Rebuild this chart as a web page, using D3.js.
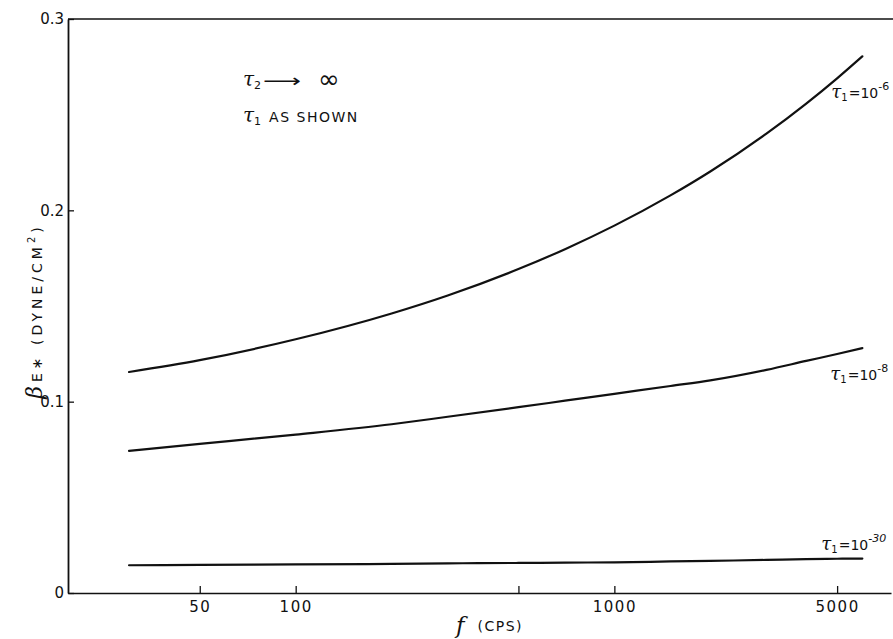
<!DOCTYPE html>
<html>
<head>
<meta charset="utf-8">
<script src="https://cdn.jsdelivr.net/npm/d3@7"></script>
<style>
  html, body { margin: 0; padding: 0; background: #fff; }
  svg { display: block; }
  text { fill: #111; }
</style>
</head>
<body>
<svg id="chart" width="893" height="639"></svg>
<script>
// ---- data ----
const freqs = [30, 50, 100, 200, 300, 500, 700, 1000, 1500, 2000, 3000, 4000, 5000, 6000];
const tau1e6 = [0.1155, 0.1217, 0.1326, 0.1461, 0.1555, 0.1693, 0.1797, 0.1920, 0.2078, 0.2203, 0.2401, 0.2558, 0.2690, 0.2805];
const tau1e8 = [0.0743, 0.0779, 0.0828, 0.0882, 0.0921, 0.0971, 0.1005, 0.1041, 0.1082, 0.1111, 0.1166, 0.1213, 0.1249, 0.1280];
const tau1e30 = [0.0145, 0.0147, 0.0150, 0.0152, 0.0155, 0.0157, 0.0159, 0.0160, 0.0165, 0.0168, 0.0173, 0.0177, 0.0179, 0.0180];
const seriesExp = ["-6", "-8", "-30"];
const xTickValues = [50, 100, 500, 1000, 5000];
const xTickLabels = ["50", "100", "", "1000", "5000"];
const yTickValues = [0, 0.1, 0.2, 0.3];
const yTickLabels = ["0", "0.1", "0.2", "0.3"];

(function () {
// ---- layout ----
const svg = d3.select("#chart");
const mLeft = 68, mRight = 891, mTop = 19, mBottom = 593;
const x = d3.scaleLog().domain([19.3, 7380]).range([mLeft, mRight]);
const y = d3.scaleLinear().domain([0, 0.3]).range([mBottom, mTop]);
const font = "'DejaVu Sans', 'Liberation Sans', sans-serif";

// top border (no right border in the original)
svg.append("line")
  .attr("x1", mLeft).attr("x2", 893)
  .attr("y1", y(0.3)).attr("y2", y(0.3))
  .attr("stroke", "#111").attr("stroke-width", 1.6);

// x axis
const xAxis = d3.axisBottom(x)
  .tickValues(xTickValues)
  .tickFormat((d, i) => xTickLabels[i])
  .tickSizeInner(-7).tickSizeOuter(0).tickPadding(8);
const gx = svg.append("g").attr("transform", `translate(0,${mBottom})`).call(xAxis);
gx.select(".domain").attr("stroke", "#111").attr("stroke-width", 1.6);
gx.selectAll(".tick line").attr("stroke", "#111").attr("stroke-width", 1.3);
gx.selectAll(".tick text").attr("font-family", font).attr("font-size", 15)
  .attr("letter-spacing", 1.5).attr("fill", "#111");

// y axis
const yAxis = d3.axisLeft(y)
  .tickValues(yTickValues)
  .tickFormat((d, i) => yTickLabels[i])
  .tickSizeInner(-6).tickSizeOuter(0).tickPadding(4);
const gy = svg.append("g").attr("transform", `translate(${mLeft},0)`).call(yAxis);
gy.select(".domain").attr("stroke", "#111").attr("stroke-width", 1.8);
gy.selectAll(".tick line").attr("stroke", "#111").attr("stroke-width", 1.3);
gy.selectAll(".tick text").attr("font-family", font).attr("font-size", 15)
  .attr("fill", "#111");

// curves
const line = d3.line()
  .x((d, i) => x(freqs[i]))
  .y(d => y(d))
  .curve(d3.curveMonotoneX);
[tau1e6, tau1e8, tau1e30].forEach(s => {
  svg.append("path").attr("d", line(s))
    .attr("fill", "none").attr("stroke", "#111").attr("stroke-width", 2.2)
    .attr("stroke-linecap", "round");
});

// curve labels: τ1 = 10^exp
function tauLabel(px, py, sub, exp) {
  const t = svg.append("text").attr("x", px).attr("y", py).attr("font-family", font);
  t.append("tspan").text("τ").attr("font-family", "'DejaVu Serif', serif")
    .attr("font-style", "italic").attr("font-size", 18);
  t.append("tspan").text(sub).attr("font-size", 10).attr("dy", 3);
  t.append("tspan").text("=10").attr("font-size", 14).attr("dy", -3).attr("dx", 1);
  if (exp) t.append("tspan").text(exp).attr("font-size", 11).attr("dy", -8)
    .attr("font-style", exp === "-30" ? "italic" : "normal");
  return t;
}
const labelAnchors = [
  { f: 6000, v: tau1e6[tau1e6.length - 1], dx: -31, dy: 42 },
  { f: 6000, v: tau1e8[tau1e8.length - 1], dx: -32, dy: 32 },
  { f: 6000, v: tau1e30[tau1e30.length - 1], dx: -41, dy: -9 }
];
labelAnchors.forEach((a, i) => tauLabel(x(a.f) + a.dx, y(a.v) + a.dy, "1", seriesExp[i]));

// annotation block
const a1 = svg.append("text").attr("x", 243).attr("y", 86).attr("font-family", font);
a1.append("tspan").text("τ").attr("font-family", "'DejaVu Serif', serif")
  .attr("font-style", "italic").attr("font-size", 20);
a1.append("tspan").text("2").attr("font-size", 11).attr("dy", 3);
svg.append("text").attr("x", 263).attr("y", 87).text("⟶")
  .attr("font-family", font).attr("font-size", 18)
  .attr("textLength", 38).attr("lengthAdjust", "spacingAndGlyphs");
svg.append("text").attr("x", 318).attr("y", 88).text("∞")
  .attr("font-family", font).attr("font-size", 26);

const a2 = svg.append("text").attr("x", 243).attr("y", 122).attr("font-family", font);
a2.append("tspan").text("τ").attr("font-family", "'DejaVu Serif', serif")
  .attr("font-style", "italic").attr("font-size", 20);
a2.append("tspan").text("1").attr("font-size", 11).attr("dy", 3);
a2.append("tspan").text("AS SHOWN").attr("font-size", 14).attr("dy", -3).attr("dx", 8)
  .attr("letter-spacing", 1.5);

// axis titles
const yl = svg.append("text")
  .attr("transform", "translate(42,311) rotate(-90)")
  .attr("text-anchor", "middle").attr("font-family", font).attr("font-size", 14)
  .attr("letter-spacing", 4);
yl.append("tspan").text("β").attr("font-family", "'DejaVu Serif', serif")
  .attr("font-style", "italic").attr("font-size", 22);
yl.append("tspan").text("E∗ (DYNE/CM");
yl.append("tspan").text("2").attr("font-size", 10).attr("dy", -7);
yl.append("tspan").text(")").attr("dy", 7);

const xl = svg.append("text").attr("x", 456).attr("y", 633).attr("font-family", font);
xl.append("tspan").text("f").attr("font-family", "'DejaVu Serif', serif")
  .attr("font-style", "italic").attr("font-size", 23);
xl.append("tspan").text("(CPS)").attr("font-size", 14).attr("dx", 13).attr("dy", -2)
  .attr("letter-spacing", 1.5);
})();
</script>
</body>
</html>
